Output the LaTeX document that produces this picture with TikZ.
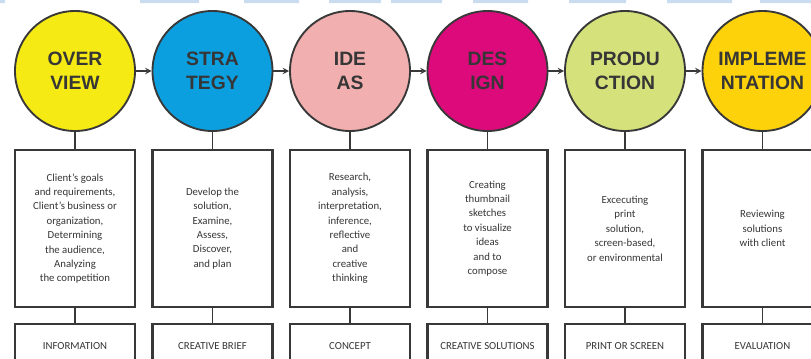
\documentclass[tikz,border=0pt]{standalone}
\usepackage{fontspec}
\setmainfont{Carlito}
\newfontfamily\headfont{Liberation Sans}

\definecolor{barblue}{HTML}{C9DCF0}
\definecolor{ovyellow}{HTML}{F5EA14}
\definecolor{stblue}{HTML}{0C9FE0}
\definecolor{idpink}{HTML}{F2AFAF}
\definecolor{demagenta}{HTML}{DD0A7C}
\definecolor{prgreen}{HTML}{D5E17B}
\definecolor{imgold}{HTML}{FDD20A}
\definecolor{linegray}{HTML}{383838}
\definecolor{textgray}{HTML}{363636}

\tikzset{
  stage/.style={circle,draw=linegray,line width=1.6pt,minimum size=3.6cm,inner sep=0pt,
    font=\headfont\bfseries\fontsize{16.5}{20.5}\selectfont,text=textgray,align=center},
  task/.style={rectangle,draw=linegray,line width=2.1pt,minimum width=3.6cm,minimum height=4.7cm,
    inner sep=2pt,font=\fontsize{9.2}{12.3}\selectfont,text=textgray,align=center},
  result/.style={rectangle,draw=linegray,line width=2.1pt,minimum width=3.6cm,minimum height=1.3cm,
    anchor=north,font=\fontsize{9.2}{11}\selectfont,text=textgray},
  link/.style={draw=linegray,line width=1.4pt},
}

\begin{document}
\begin{tikzpicture}[x=0.03cm,y=-0.03cm,>=stealth]
\def\ytop{71}
\def\ymid{228.5}
\def\ybot{323}

\useasboundingbox (0,0) rectangle (811,358);
\clip (0,0) rectangle (811,358);
\fill[white] (0,0) rectangle (811,358);

% strip along the top edge
\fill[barblue] (0,0) rectangle (5,3) (140,0) rectangle (199,3) (244,0) rectangle (299,3)
  (329,0) rectangle (381,3) (391,0) rectangle (442,3) (473,0) rectangle (528,3)
  (569,0) rectangle (626,3) (667,0) rectangle (732,3) (760,0) rectangle (811,3);

% stages
\node[stage,fill=ovyellow] (ov) at (75,\ytop) {OVER\\VIEW};
\node[stage,fill=stblue] (st) at (212.5,\ytop) {STRA\\TEGY};
\node[stage,fill=idpink] (id) at (350,\ytop) {IDE\\AS};
\node[stage,fill=demagenta] (de) at (487.5,\ytop) {DES\\IGN};
\node[stage,fill=prgreen] (pr) at (625,\ytop) {PRODU\\CTION};
\node[stage,fill=imgold] (im) at (762.5,\ytop) {IMPLEME\\NTATION};

\draw[link,->] (ov) -- (st);
\draw[link,->] (st) -- (id);
\draw[link,->] (id) -- (de);
\draw[link,->] (de) -- (pr);
\draw[link,->] (pr) -- (im);

% what happens in each stage
\node[task] (ovtask) at (75,\ymid) {Client's goals\\and requirements,\\Client's business or\\organization,\\Determining\\the audience,\\Analyzing\\the competition};
\node[task] (sttask) at (212.5,\ymid) {Develop the\\solution,\\Examine,\\Assess,\\Discover,\\and plan};
\node[task] (idtask) at (350,\ymid) {Research,\\analysis,\\interpretation,\\inference,\\reflective\\and\\creative\\thinking};
\node[task] (detask) at (487.5,\ymid) {Creating\\thumbnail\\sketches\\to visualize\\ideas\\and to\\compose};
\node[task] (prtask) at (625,\ymid) {Excecuting\\print\\solution,\\screen-based,\\or environmental};
\node[task] (imtask) at (762.5,\ymid) {Reviewing\\solutions\\with client};

% outcome of each stage
\node[result] (ovout) at (75,\ybot) {INFORMATION};
\node[result] (stout) at (212.5,\ybot) {CREATIVE BRIEF};
\node[result] (idout) at (350,\ybot) {CONCEPT};
\node[result] (deout) at (487.5,\ybot) {CREATIVE SOLUTIONS};
\node[result] (prout) at (625,\ybot) {PRINT OR SCREEN};
\node[result] (imout) at (762.5,\ybot) {EVALUATION};

\draw[link] (ov) -- (ovtask) (ovtask) -- (ovout);
\draw[link] (st) -- (sttask) (sttask) -- (stout);
\draw[link] (id) -- (idtask) (idtask) -- (idout);
\draw[link] (de) -- (detask) (detask) -- (deout);
\draw[link] (pr) -- (prtask) (prtask) -- (prout);
\draw[link] (im) -- (imtask) (imtask) -- (imout);
\end{tikzpicture}
\end{document}
